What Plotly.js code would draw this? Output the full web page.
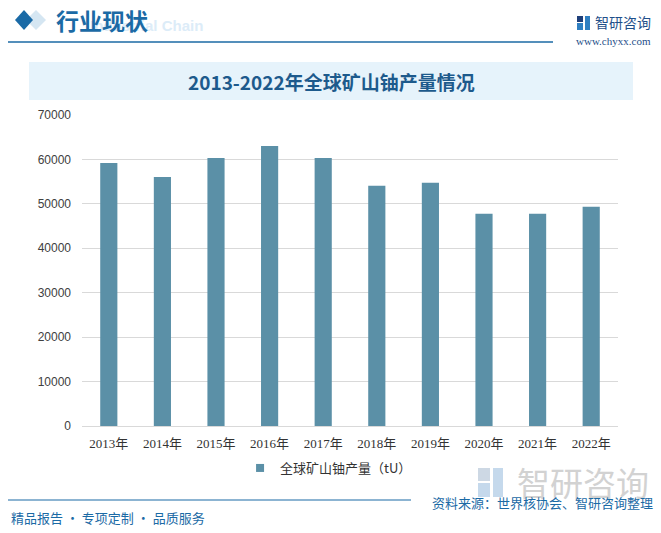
<!DOCTYPE html>
<html>
<head>
<meta charset="utf-8">
<script src="https://cdn.plot.ly/plotly-3.0.1.min.js"></script>
<style>
html,body{margin:0;padding:0;background:#fff;}
#chart{width:661px;height:533px;}
</style>
</head>
<body>
<div id="chart"></div>
<script>
// ---- data ----
var years = ["2013年","2014年","2015年","2016年","2017年","2018年","2019年","2020年","2021年","2022年"];
var production = [59200, 56050, 60300, 63050, 60300, 54100, 54750, 47750, 47750, 49350];
var seriesName = "全球矿山铀产量（tU）";
var chartTitle = "2013-2022年全球矿山铀产量情况";
var yTicks = [0, 10000, 20000, 30000, 40000, 50000, 60000, 70000];

// ---- geometry helpers (pixel -> paper) ----
var W = 661, H = 533;
var mL = 82, mR = 43, mT = 115, mB = 107;
var pw = W - mL - mR, ph = H - mT - mB;
function px(x){ return (x - mL) / pw; }
function py(y){ return (H - mB - y) / ph; }

var blue = "#1b6aa5";
var barColor = "#5b90a7";
var cjk = "Noto Sans CJK SC, sans-serif";

function diamond(cx, cy, hw, hh){
  return "M " + px(cx - hw) + " " + py(cy) + " L " + px(cx) + " " + py(cy - hh) +
         " L " + px(cx + hw) + " " + py(cy) + " L " + px(cx) + " " + py(cy + hh) + " Z";
}

var barTrace = {
  type: "bar",
  x: years,
  y: production,
  name: seriesName,
  marker: {color: barColor},
  width: 0.32,
  showlegend: false
};
// legend entry with a small square symbol, as in the reference
var legendTrace = {
  type: "scatter",
  mode: "markers",
  x: [years[0]],
  y: [null],
  name: seriesName,
  marker: {symbol: "square", size: 8, color: barColor},
  showlegend: true
};

var shapes = [
  {type:"rect", xref:"paper", yref:"paper", x0:px(29), x1:px(633), y0:py(62), y1:py(100),
   fillcolor:"#e6f3fb", line:{width:0}, layer:"below"},
  {type:"path", xref:"paper", yref:"paper", path:diamond(36, 20, 10, 10), fillcolor:"#d5e6f2", line:{width:0}},
  {type:"path", xref:"paper", yref:"paper", path:diamond(24, 20, 9, 10), fillcolor:"#1a6aa6", line:{width:0}},
  {type:"line", xref:"paper", yref:"paper", x0:px(8), x1:px(553), y0:py(42), y1:py(42),
   line:{color:blue, width:1.5}},
  {type:"line", xref:"paper", yref:"paper", x0:px(8), x1:px(411), y0:py(500), y1:py(500),
   line:{color:blue, width:1.2}},
  {type:"rect", xref:"paper", yref:"paper", x0:px(577), x1:px(583), y0:py(16), y1:py(22),
   fillcolor:"#1f3f7a", line:{width:0}},
  {type:"rect", xref:"paper", yref:"paper", x0:px(577), x1:px(583), y0:py(23), y1:py(30),
   fillcolor:"#2f7fc1", line:{width:0}},
  {type:"rect", xref:"paper", yref:"paper", x0:px(585), x1:px(590), y0:py(16), y1:py(30),
   fillcolor:"#2f7fc1", line:{width:0}},
  {type:"rect", xref:"paper", yref:"paper", x0:px(478), x1:px(490), y0:py(468), y1:py(481),
   fillcolor:"#cdd8e4", line:{width:0}},
  {type:"rect", xref:"paper", yref:"paper", x0:px(478), x1:px(490), y0:py(483), y1:py(497),
   fillcolor:"#c5d9ec", line:{width:0}},
  {type:"rect", xref:"paper", yref:"paper", x0:px(493), x1:px(503), y0:py(468), y1:py(497),
   fillcolor:"#c5d9ec", line:{width:0}}
];

var annotations = [
  {text:"Industrial Chain", xref:"paper", yref:"paper", x:px(205), y:py(25), xanchor:"right", yanchor:"middle",
   showarrow:false, font:{family:"Liberation Sans, Arial, sans-serif", size:15, color:"#dcecf8", weight:"bold"}},
  {text:"<b>行业现状</b>", xref:"paper", yref:"paper", x:px(54), y:py(20), xanchor:"left", yanchor:"middle",
   showarrow:false, font:{family:cjk, size:23, color:blue}},
  {text:"智研咨询", xref:"paper", yref:"paper", x:px(653), y:py(22), xanchor:"right", yanchor:"middle",
   showarrow:false, font:{family:cjk, size:14, color:"#1f4f8a"}},
  {text:"www.chyxx.com", xref:"paper", yref:"paper", x:px(653), y:py(41), xanchor:"right", yanchor:"middle",
   showarrow:false, font:{family:"Liberation Serif, serif", size:11, color:"#1f4f8a"}},
  {text:"<b>" + chartTitle + "</b>", xref:"paper", yref:"paper", x:px(331), y:py(82), xanchor:"center", yanchor:"middle",
   showarrow:false, font:{family:cjk, size:19, color:"#1d5a8c"}},
  {text:"智研咨询", xref:"paper", yref:"paper", x:px(651), y:py(482), xanchor:"right", yanchor:"middle",
   showarrow:false, font:{family:cjk, size:33, color:"#d2d2d2"}},
  {text:"资料来源：世界核协会、智研咨询整理", xref:"paper", yref:"paper", x:px(655), y:py(502), xanchor:"right", yanchor:"middle",
   showarrow:false, font:{family:cjk, size:13, color:blue}},
  {text:"精品报告 · 专项定制 · 品质服务", xref:"paper", yref:"paper", x:px(9), y:py(517), xanchor:"left", yanchor:"middle",
   showarrow:false, font:{family:cjk, size:13, color:blue}}
];

var layout = {
  width: W, height: H,
  margin: {l: mL, r: mR, t: mT, b: mB, pad: 0},
  paper_bgcolor: "#ffffff",
  plot_bgcolor: "#ffffff",
  bargap: 0.68,
  xaxis: {
    type: "category",
    categoryarray: years,
    range: [-0.5, years.length - 0.5],
    autorange: false,
    tickfont: {family: "Liberation Serif, Noto Sans CJK SC, serif", size: 13, color: "#333333"},
    showgrid: false, zeroline: false, showline: false,
    ticks: "", ticklabelstandoff: 8,
    fixedrange: true
  },
  yaxis: {
    range: [0, 70000],
    tickvals: yTicks,
    ticktext: yTicks.map(String),
    tickfont: {family: "Liberation Sans, Arial, sans-serif", size: 12, color: "#404040"},
    showgrid: true, gridcolor: "#d9d9d9", gridwidth: 1,
    zeroline: true, zerolinecolor: "#d9d9d9", zerolinewidth: 1,
    showline: false, ticks: "", ticklabelstandoff: 10,
    fixedrange: true
  },
  showlegend: true,
  legend: {
    orientation: "h", x: 0.46, xanchor: "center", y: py(468), yanchor: "middle",
    font: {family: cjk, size: 13, color: "#333333"},
    itemwidth: 30, bgcolor: "rgba(0,0,0,0)"
  },
  shapes: shapes,
  annotations: annotations
};

Plotly.newPlot("chart", [barTrace, legendTrace], layout, {displayModeBar: false, staticPlot: true});
</script>
</body>
</html>
